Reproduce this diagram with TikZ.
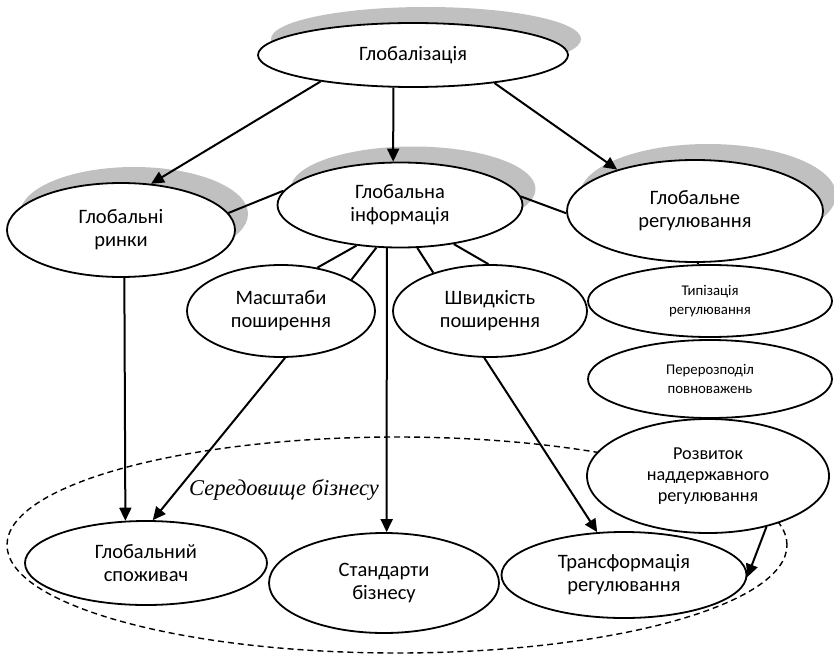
\documentclass[tikz,border=0pt]{standalone}
\usepackage{fontspec}
\setmainfont{Carlito}
\newfontfamily\envfont{Liberation Serif}
\usetikzlibrary{shapes.geometric,arrows.meta}
\definecolor{shadowgray}{RGB}{192,192,192}

\begin{document}
\begin{tikzpicture}[x=1pt,y=-1pt,
  oval/.style={ellipse, draw, line width=1.8pt, fill=white, inner sep=0pt,
    align=center, font=\fontsize{20.5}{23}\selectfont},
  small/.style={font=\fontsize{14.8}{19}\selectfont},
  medium/.style={font=\fontsize{18.2}{21}\selectfont},
  shadowed/.style={preaction={draw=none, fill=shadowgray,
    transform canvas={xshift=13pt, yshift=16pt}}},
  envline/.style={ellipse, draw, dash pattern=on 6pt off 4pt,
    line width=1.4pt, inner sep=0pt},
  conn/.style={line width=2pt},
  arr/.style={conn, -{Triangle[length=13pt,width=12pt]}}
]
\useasboundingbox (0,0) rectangle (834,658);

% business environment region
\node[envline, minimum width=780pt, minimum height=216pt] (env) at (397,545) {};
\node[font=\envfont\itshape\fontsize{22.5}{26}\selectfont, inner sep=0pt]
  (envlabel) at (284,490) {Середовище бізнесу};

% top level
\node[oval, shadowed, minimum width=310pt, minimum height=64pt] (glob) at (413,55) {Глобалізація};
\node[oval, shadowed, minimum width=228pt, minimum height=94pt] (rynky) at (121,230) {Глобальні\\ринки};
\node[oval, shadowed, minimum width=245pt, minimum height=85pt] (info) at (400,205) {Глобальна\\інформація};
\node[oval, shadowed, minimum width=256pt, minimum height=102pt] (reg) at (695,211) {Глобальне\\регулювання};

% information branch
\node[oval, minimum width=188pt, minimum height=92pt] (masht) at (281,311) {Масштаби\\поширення};
\node[oval, minimum width=194pt, minimum height=92pt] (shvyd) at (490,311) {Швидкість\\поширення};

% regulation branch
\node[oval, small, minimum width=244pt, minimum height=72pt] (typ) at (710,301) {Типізація\\регулювання};
\node[oval, small, minimum width=244pt, minimum height=78pt] (per) at (710,379) {Перерозподіл\\повноважень};
\node[oval, medium, minimum width=242pt, minimum height=114pt] (rozv) at (708,476) {Розвиток\\наддержавного\\регулювання};

% outcomes
\node[oval, minimum width=242pt, minimum height=84pt] (spozh) at (146,563) {Глобальний\\споживач};
\node[oval, minimum width=230pt, minimum height=100pt] (stand) at (384,583) {Стандарти\\бізнесу};
\node[oval, minimum width=245pt, minimum height=86pt] (transf) at (624,575) {Трансформація\\регулювання};

% connectors
\draw[arr] (glob.196) -- (rynky.57);
\draw[arr] (glob.239) -- (info.99);
\draw[arr] (glob.341.6) -- (reg.152.6);
\draw[conn] (rynky.9.5) -- (info.173.2);
\draw[conn] (info.4) -- (reg.181.8);
\draw[conn] (reg.273.4) -- (typ.108.5);
\draw[conn] (info.223) -- (masht.50.7);
\draw[conn] (info.241.2) -- (masht.24.2);
\draw[conn] (info.292.6) -- (shvyd.146.8);
\draw[conn] (info.324.5) -- (shvyd.92.5);
\draw[arr] (info.253.5) -- (stand.87.7);
\draw[arr] (rynky.274.9) -- (spozh.116.9);
\draw[arr] (masht.275) -- (spozh.81.9);
\draw[arr] (shvyd.263.8) -- (transf.122.3);
\draw[arr] (rozv.319.6) -- (transf.359);
\end{tikzpicture}
\end{document}
